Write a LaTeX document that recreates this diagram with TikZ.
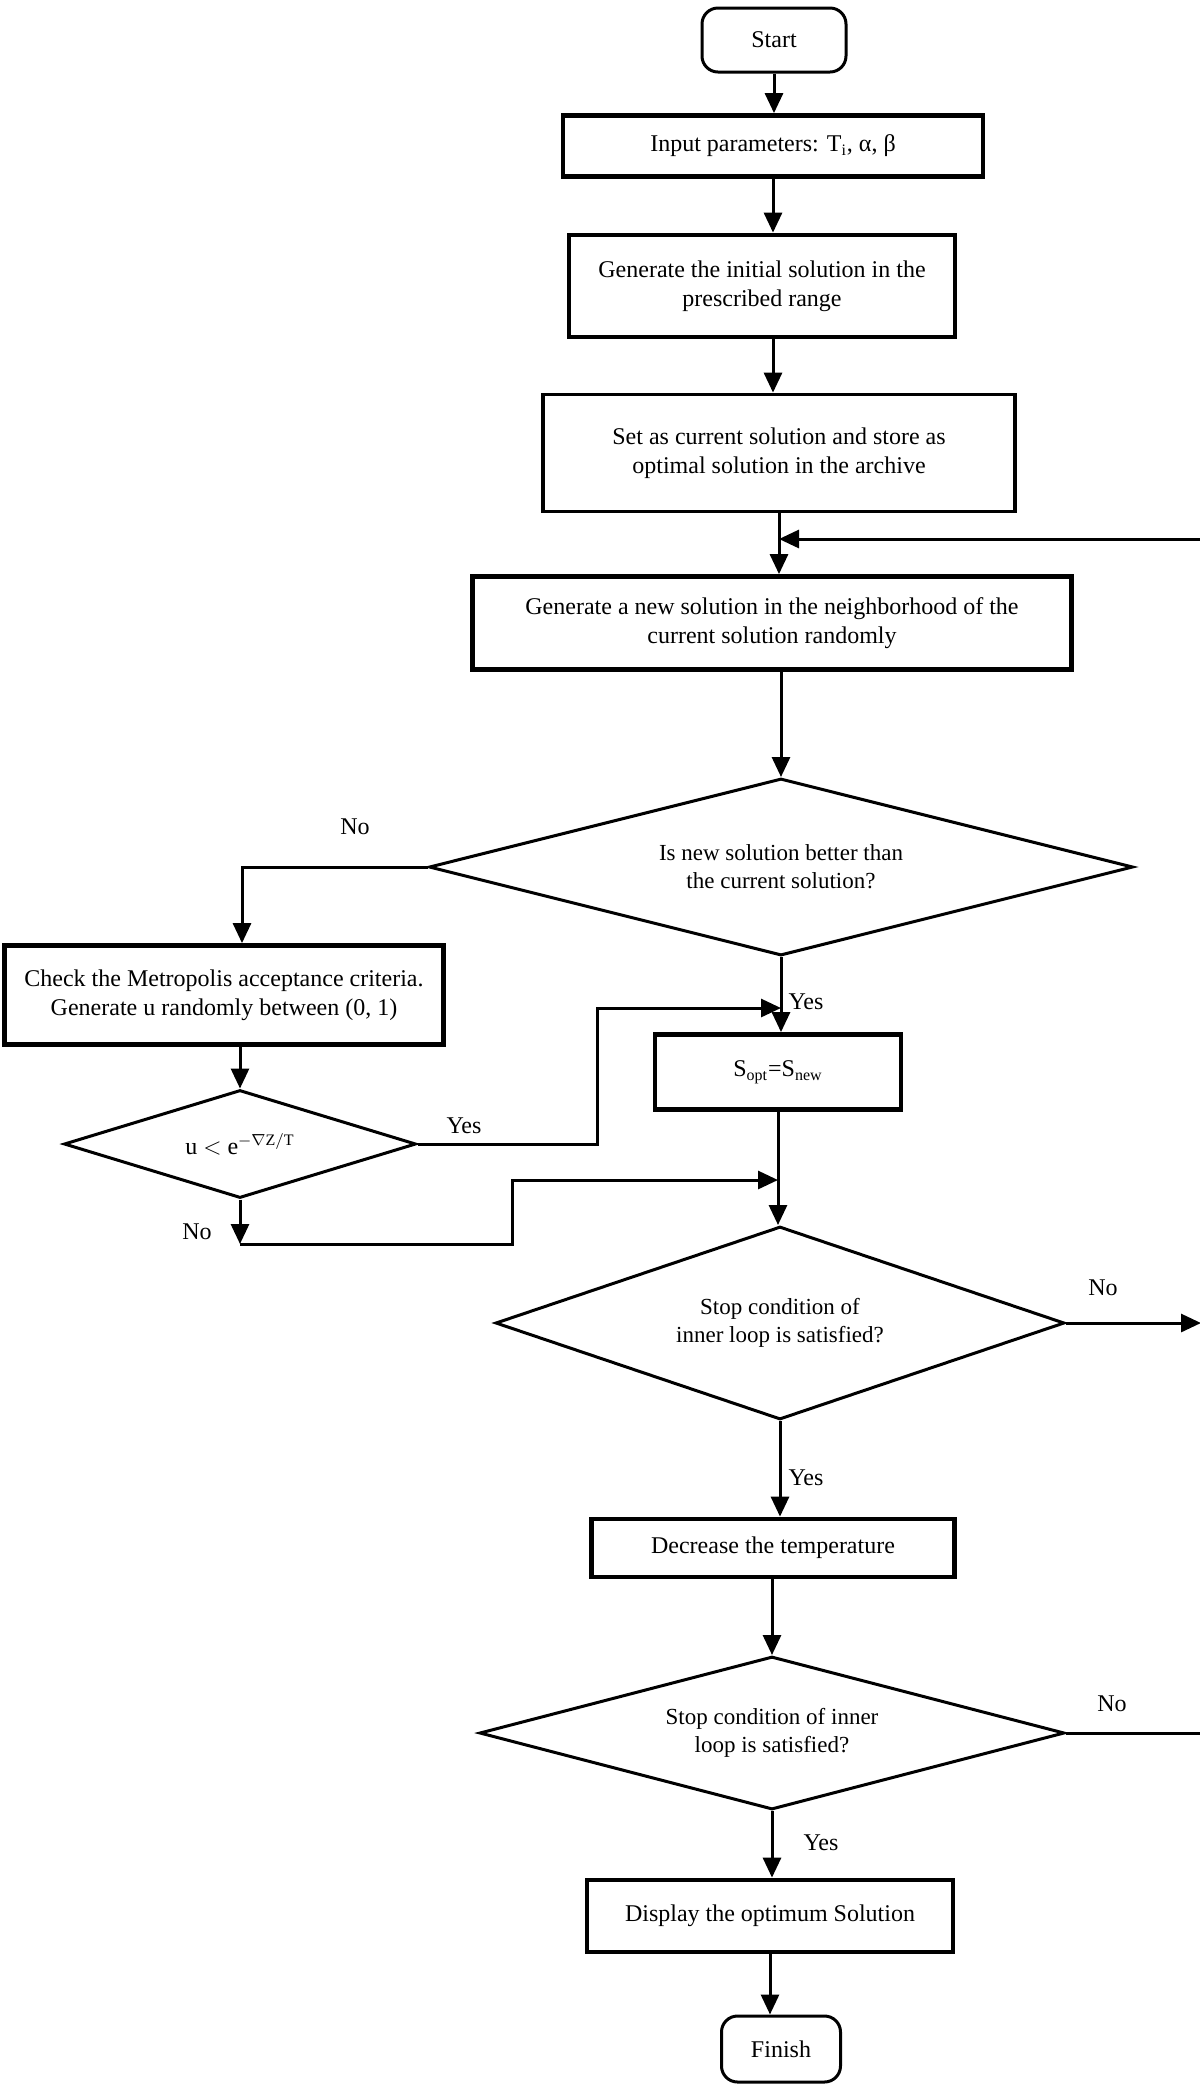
\documentclass[tikz,border=0pt]{standalone}
\usepackage{fontspec}
\setmainfont{Liberation Serif}
\usetikzlibrary{shapes.geometric,arrows.meta}
\newcommand\boxfont{\fontsize{12}{14.5}\selectfont}
\newcommand\diafont{\fontsize{11.5}{14}\selectfont}
\begin{document}
\begin{tikzpicture}[x=0.5pt,y=-0.5pt,
  every node/.style={inner sep=0pt, align=center},
  box/.style={draw, line width=2.4pt, font=\boxfont},
  medbox/.style={draw, line width=1.9pt, font=\boxfont},
  term/.style={draw, rounded corners=8pt, line width=1.5pt, font=\boxfont},
  dia/.style={draw, diamond, aspect=4, line width=1.5pt, font=\diafont},
  conn/.style={line width=1.5pt, -{Triangle[length=10pt,width=9pt]}},
  plain/.style={line width=1.5pt},
  lab/.style={font=\boxfont},
]
\useasboundingbox (0,0) rectangle (1200,2085);

% nodes
\node[term, minimum width=72pt, minimum height=32pt] (start) at (774,40) {Start};
\node[box, minimum width=210pt, minimum height=30.5pt] (input) at (773,146) {Input parameters: T\textsubscript{i}, α, β};
\node[box, minimum width=193pt, minimum height=51pt] (init) at (762,286) {Generate the initial solution in the\\prescribed range};
\node[medbox, minimum width=236pt, minimum height=58.5pt] (setcur) at (779,453) {Set as current solution and store as\\optimal solution in the archive};
\node[box, minimum width=299.5pt, minimum height=46.5pt] (gennew) at (772,623) {Generate a new solution in the neighborhood of the\\current solution randomly};
\node[dia, minimum width=352pt, minimum height=88.5pt] (d1) at (781,867) {Is new solution better than\\the current solution?};
\node[box, minimum width=219.5pt, minimum height=49.5pt] (chk) at (224,995) {Check the Metropolis acceptance criteria.\\Generate u randomly between (0, 1)};
\node[dia, minimum width=176pt, minimum height=54pt, font=\boxfont] (d2) at (240,1144) {u $<$ e$^{-\nabla\mathrm{Z/T}}$};
\node[box, minimum width=123pt, minimum height=37.5pt] (sopt) at (778,1072) {S\textsubscript{opt}=S\textsubscript{new}};
\node[dia, minimum width=284.5pt, minimum height=96.5pt] (d3) at (780,1323) {Stop condition of\\inner loop is satisfied?};
\node[box, minimum width=181.5pt, minimum height=29pt] (dec) at (773,1548) {Decrease the temperature};
\node[dia, minimum width=292.5pt, minimum height=76.5pt] (d4) at (772,1733) {Stop condition of inner\\loop is satisfied?};
\node[box, minimum width=183pt, minimum height=36pt] (disp) at (770,1916) {Display the optimum Solution};
\node[term, minimum width=59.5pt, minimum height=33pt] (fin) at (781,2049) {Finish};

% helper coordinates
\coordinate (lp) at (1201,539);
\coordinate (cn) at (242,867);
\coordinate (y1) at (597,1144);
\coordinate (y2) at (597,1008);
\coordinate (n1) at (240,1244);
\coordinate (n2) at (512,1244);
\coordinate (n3) at (512,1180);

% main column
\draw[conn] (start.south) -- (start.south |- input.north);
\draw[conn] (input.south) -- (input.south |- init.north);
\draw[conn] (init.south -| input.south) -- (input.south |- setcur.north);
\draw[conn] (setcur.south) -- (setcur.south |- gennew.north);
\draw[conn] (gennew.south -| d1.north) -- (d1.north);
\draw[conn] (d1.south) -- (d1.south |- sopt.north);
\draw[conn] (sopt.south) -- (sopt.south |- d3.north);
\draw[conn] (d3.south) -- (d3.south |- dec.north);
\draw[conn] (dec.south -| d4.north) -- (d4.north);
\draw[conn] (d4.south) -- (d4.south |- disp.north);
\draw[conn] (disp.south) -- (disp.south |- fin.north);

% outer loop
\draw[conn] (d4.east) -- (d4.east -| lp) -- (lp) -- (lp -| setcur.south);
\draw[conn] (d3.east) -- (d3.east -| lp);

% left branch
\draw[conn] (d1.west) -- (cn) -- (cn |- chk.north);
\draw[conn] (chk.south -| d2.north) -- (d2.north);
\draw[conn] (d2.east) -- (y1) -- (y2) -- (y2 -| d1.south);
\draw[conn] (d2.south) -- (n1);
\draw[conn] (n1) -- (n2) -- (n3) -- (n3 -| sopt.south);

% labels
\node[lab] at (355,827) {No};
\node[lab] at (464,1126) {Yes};
\node[lab] at (806,1002) {Yes};
\node[lab] at (197,1232) {No};
\node[lab] at (1103,1288) {No};
\node[lab] at (806,1478) {Yes};
\node[lab] at (1112,1704) {No};
\node[lab] at (821,1843) {Yes};
\end{tikzpicture}
\end{document}
